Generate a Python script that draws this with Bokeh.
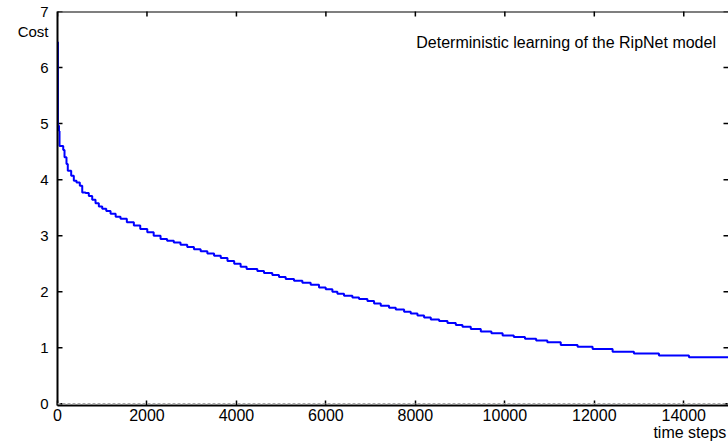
from bokeh.plotting import figure
from bokeh.models import FixedTicker, Span, Label, Range1d, LinearAxis
from bokeh.embed import file_html
from bokeh.resources import INLINE
import math

# ---- data ----
time_steps = [0, 10, 34, 45, 128, 157, 201, 230, 306, 365, 425, 499, 553, 626, 700,
              776, 850, 924, 1000, 1090, 1186, 1300, 1409, 1550, 1707, 1850, 2007,
              2150, 2304, 2450, 2600, 2750, 2900, 3050, 3200, 3350, 3500, 3650, 3800,
              3950, 4094, 4228, 4467, 4616, 4802, 4951, 5101, 5287, 5474, 5660, 5846,
              5996, 6145, 6257, 6405, 6592, 6741, 6928, 7077, 7226, 7412, 7562, 7748,
              7897, 8047, 8195, 8345, 8531, 8718, 8904, 9053, 9239, 9463, 9700, 9950,
              10200, 10450, 10700, 10950, 11250, 11626, 11962, 12409, 12886, 13445,
              14116, 15000]
cost = [6.45, 4.96, 4.87, 4.60, 4.53, 4.40, 4.28, 4.16, 4.07, 3.98, 3.95, 3.89, 3.77,
        3.76, 3.71, 3.64, 3.58, 3.52, 3.48, 3.44, 3.39, 3.34, 3.30, 3.24, 3.18, 3.12,
        3.06, 3.00, 2.94, 2.91, 2.88, 2.84, 2.80, 2.76, 2.72, 2.68, 2.64, 2.60, 2.55,
        2.50, 2.446, 2.405, 2.369, 2.333, 2.298, 2.262, 2.226, 2.196, 2.161, 2.125,
        2.077, 2.042, 2.00, 1.964, 1.929, 1.899, 1.869, 1.833, 1.792, 1.750, 1.714,
        1.685, 1.643, 1.613, 1.577, 1.542, 1.506, 1.476, 1.440, 1.405, 1.375, 1.333,
        1.292, 1.26, 1.22, 1.19, 1.16, 1.13, 1.10, 1.05, 1.02, 0.98, 0.93, 0.90, 0.86,
        0.83, 0.83]
x_ticks = [0, 2000, 4000, 6000, 8000, 10000, 12000, 14000]
y_ticks = [0, 1, 2, 3, 4, 5, 6, 7]
x_max = 15000
title_text = "Deterministic learning of the RipNet model"
y_label_text = "Cost"
x_label_text = "time steps"
# where the axis titles sit along their axes
y_label_pos = 6.64
x_label_pos = 14136

FONT = "Liberation Sans"

p = figure(width=728, height=445,
           x_range=Range1d(0, x_max), y_range=Range1d(-0.03, y_ticks[-1]),
           output_backend="svg", toolbar_location=None,
           min_border_left=57, min_border_right=0,
           min_border_top=11, min_border_bottom=40)
p.outline_line_color = None
p.grid.visible = False
p.background_fill_color = "white"
p.border_fill_color = "white"


def style(ax, fs):
    ax.axis_line_color = "black"
    ax.axis_line_width = 2
    ax.major_tick_line_color = "black"
    ax.major_tick_line_width = 1.5
    ax.major_tick_in = 5
    ax.major_tick_out = 0
    ax.minor_tick_in = 0
    ax.minor_tick_out = 0
    ax.minor_tick_line_color = None
    ax.major_label_text_font = FONT
    ax.major_label_text_font_size = fs
    ax.major_label_text_color = "black"


xa = p.xaxis[0]
xa.ticker = FixedTicker(ticks=x_ticks)
style(xa, "16px")
xa.major_label_standoff = 3

ya = p.yaxis[0]
ya.ticker = FixedTicker(ticks=y_ticks + [y_label_pos])
style(ya, "15px")
ya.major_tick_in = 0
ya.major_label_standoff = 9
overrides = {float(t): str(t) for t in y_ticks}
overrides[y_label_pos] = y_label_text
ya.major_label_overrides = overrides

# second row below the x axis carrying the axis title at the right end
xl = LinearAxis(ticker=FixedTicker(ticks=[x_label_pos]))
xl.major_label_overrides = {float(x_label_pos): x_label_text}
xl.axis_line_color = None
xl.major_tick_in = 0
xl.major_tick_out = 0
xl.minor_tick_in = 0
xl.minor_tick_out = 0
xl.major_tick_line_color = None
xl.minor_tick_line_color = None
xl.major_label_standoff = 0
xl.major_label_text_font = FONT
xl.major_label_text_font_size = "16px"
xl.major_label_text_color = "black"
p.add_layout(xl, "below")

# top frame line and inward ticks on the left / top / right edges
p.add_layout(Span(location=y_ticks[-1], dimension="width", line_color="black",
                  line_width=2))
p.scatter([0] * len(y_ticks), y_ticks, marker="dash", size=10,
          line_color="black", line_width=1.5)
p.scatter(x_ticks, [y_ticks[-1]] * len(x_ticks), marker="dash", size=10,
          angle=math.pi / 2, line_color="black", line_width=1.5)
p.scatter([x_max] * len(y_ticks), y_ticks, marker="dash", size=10,
          line_color="black", line_width=1.5)

p.add_layout(Span(location=0, dimension="width", line_color="#a8a8a8",
                  line_dash="3 2", line_width=1.5))

p.step(time_steps, cost, mode="after", line_color="#0000ff", line_width=2)

p.add_layout(Label(x=14720, y=6.45, text=title_text, text_align="right",
                   text_baseline="alphabetic", text_font=FONT,
                   text_font_size="16px", text_color="black"))

open("out.html", "w").write(file_html(p, INLINE))
